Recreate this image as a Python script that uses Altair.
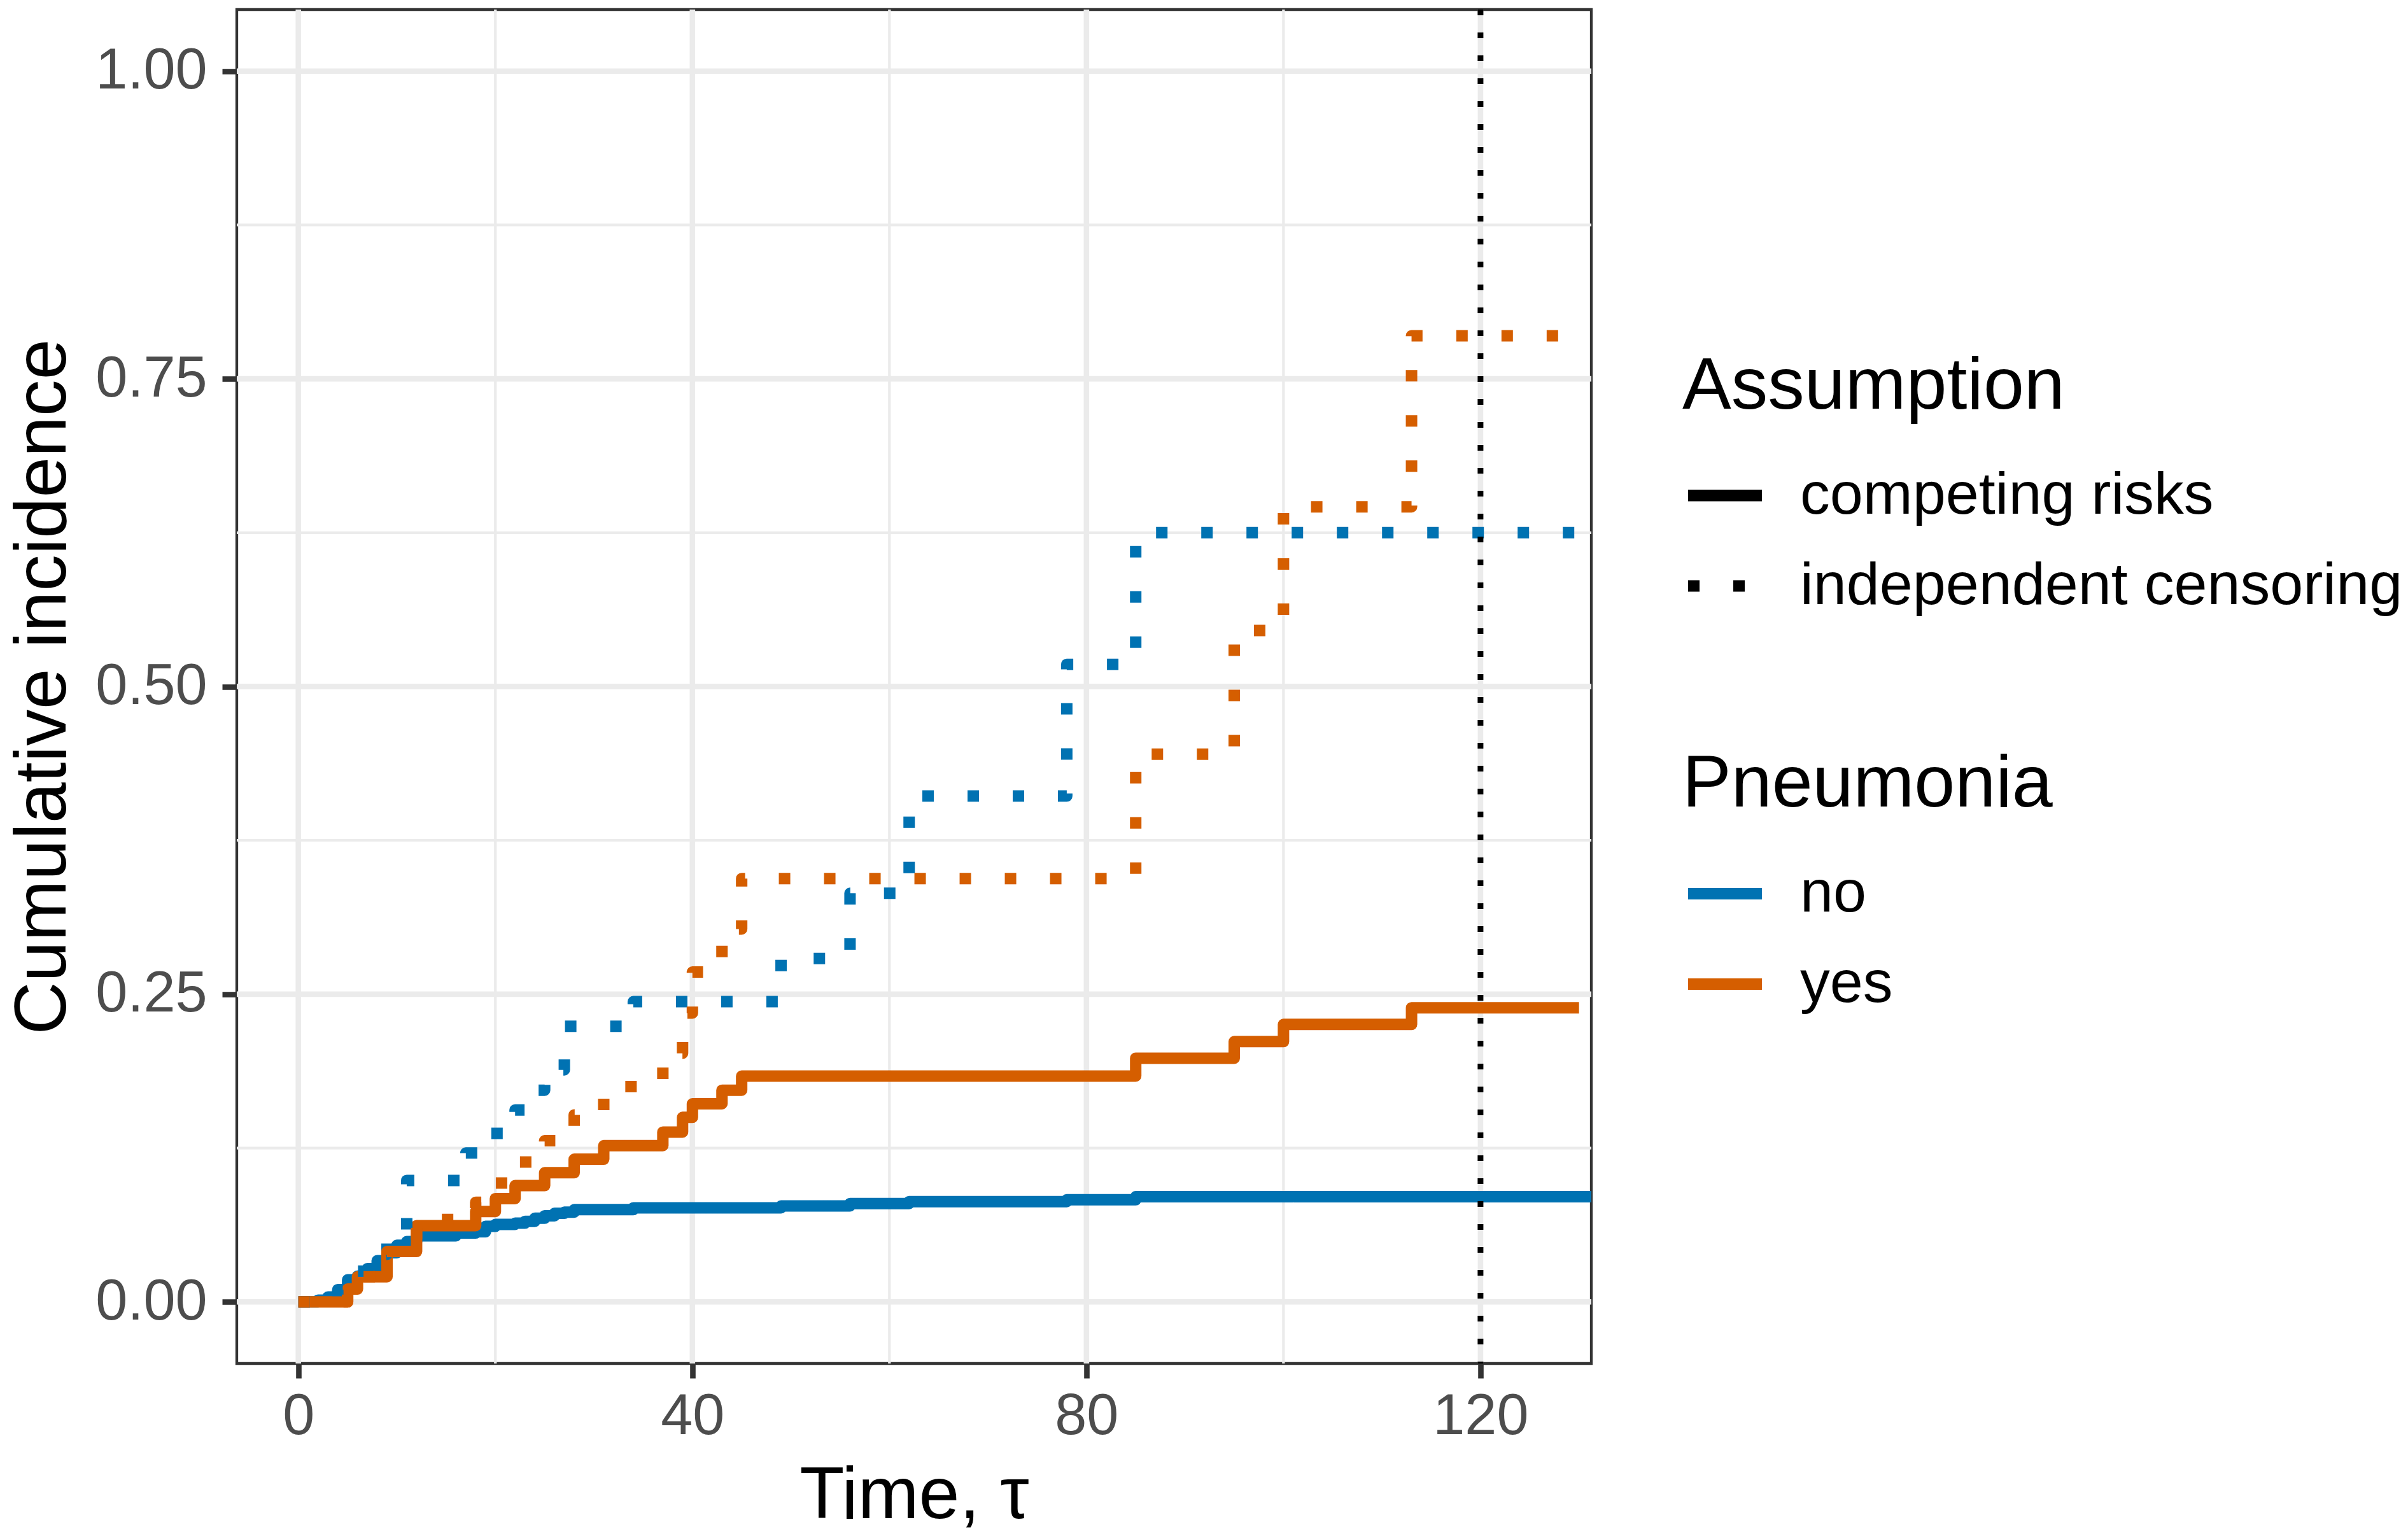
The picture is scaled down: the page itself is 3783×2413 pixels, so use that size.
import altair as alt
import pandas as pd

# Cumulative incidence step estimates (time in days)
times_no_cr = [0, 2, 3, 4, 5, 6, 7, 8, 9, 10, 11, 12, 16, 18, 19, 20, 22, 23, 24, 25,
               26, 27, 28, 34, 49, 56, 62, 78, 85, 135]
cif_no_cr = [0, 0.0015, 0.004, 0.009, 0.018, 0.021, 0.027, 0.0335, 0.040, 0.046,
             0.049, 0.0537, 0.056, 0.057, 0.0614, 0.063, 0.064, 0.0655, 0.068, 0.070,
             0.072, 0.073, 0.075, 0.0765, 0.078, 0.080, 0.0815, 0.083, 0.0855, 0.0855]

times_no_ic = [0, 2, 3, 4, 5, 6, 7, 9, 11, 17, 19, 22, 24, 25, 27, 34, 49, 56, 62, 78,
               85, 135]
cif_no_ic = [0, 0.0016, 0.0045, 0.010, 0.020, 0.025, 0.0387, 0.057, 0.0987, 0.121,
             0.137, 0.156, 0.172, 0.1886, 0.224, 0.244, 0.279, 0.332, 0.411, 0.518,
             0.625, 0.625]

times_yes_cr = [0, 5, 6, 9, 12, 18, 20, 22, 25, 28, 31, 37, 39, 40, 43, 45, 85, 95,
                100, 113, 130]
cif_yes_cr = [0, 0.0105, 0.0205, 0.041, 0.062, 0.0735, 0.084, 0.0945, 0.105, 0.116,
              0.127, 0.138, 0.150, 0.161, 0.172, 0.1835, 0.198, 0.2115, 0.2255, 0.239,
              0.239]

times_yes_ic = [0, 5, 6, 9, 12, 18, 20, 22, 25, 28, 31, 37, 39, 40, 43, 45, 85, 95,
                100, 113, 130]
cif_yes_ic = [0, 0.0105, 0.0205, 0.041, 0.067, 0.081, 0.0966, 0.1137, 0.131, 0.152,
              0.175, 0.202, 0.2347, 0.268, 0.303, 0.344, 0.445, 0.5455, 0.646, 0.785,
              0.785]

pneumonia_levels = ["no", "yes"]
assumption_levels = ["competing risks", "independent censoring"]

x_major = [0, 40, 80, 120]
x_minor = [20, 60, 100]
y_major = [0, 0.25, 0.5, 0.75, 1.0]
y_minor = [0.125, 0.375, 0.625, 0.875]
tau = [120]

FONT = "Liberation Sans"
BLUE, ORANGE = "#0072B2", "#D55E00"

# long table of all four curves, in drawing order
series = [
    ("no", "competing risks", times_no_cr, cif_no_cr),
    ("yes", "competing risks", times_yes_cr, cif_yes_cr),
    ("no", "independent censoring", times_no_ic, cif_no_ic),
    ("yes", "independent censoring", times_yes_ic, cif_yes_ic),
]
rows = []
for k, (pn, asm, ts, vs) in enumerate(series):
    for t, v in zip(ts, vs):
        rows.append({"t": t, "cif": v, "pneumonia": pn, "assumption": asm, "series": k})
curves = pd.DataFrame(rows)

xscale = alt.Scale(domain=[-6.25, 131.25], nice=False, zero=False)
yscale = alt.Scale(domain=[-0.05, 1.05], nice=False, zero=False)

x_axis = alt.Axis(values=x_major, format="d", title="Time, τ", labelFlush=False,
                  labelPadding=16, titleX=1064, titleY=242, titleBaseline="alphabetic",
                  titleAlign="center")
y_axis = alt.Axis(values=y_major, format=".2f", title="Cumulative incidence",
                  labelPadding=24, titleX=-270, titleY=1063.5, titleAngle=270,
                  titleBaseline="alphabetic", titleAlign="center")

color_scale = alt.Scale(domain=pneumonia_levels, range=[BLUE, ORANGE])
dash_scale = alt.Scale(domain=assumption_levels, range=[[1, 0], [18, 53]])

legend_common = dict(orient="none", symbolType="stroke", symbolStrokeWidth=18,
                     symbolSize=13456, labelOffset=51, rowPadding=28, titlePadding=46,
                     padding=0)
color_legend = alt.Legend(title="Pneumonia", legendX=2271, legendY=1161, **legend_common)
dash_legend = alt.Legend(title="Assumption", legendX=2271, legendY=535.6,
                         symbolStrokeColor="black", **legend_common)

# panel grid
grid_x_major = alt.Chart(pd.DataFrame({"t": x_major})).mark_rule(
    color="#EBEBEB", strokeWidth=8.6).encode(x=alt.X("t:Q", scale=xscale, axis=x_axis))
grid_x_minor = alt.Chart(pd.DataFrame({"t": x_minor})).mark_rule(
    color="#EBEBEB", strokeWidth=4.3).encode(x=alt.X("t:Q", scale=xscale, axis=x_axis))
grid_y_major = alt.Chart(pd.DataFrame({"cif": y_major})).mark_rule(
    color="#EBEBEB", strokeWidth=8.6).encode(y=alt.Y("cif:Q", scale=yscale, axis=y_axis))
grid_y_minor = alt.Chart(pd.DataFrame({"cif": y_minor})).mark_rule(
    color="#EBEBEB", strokeWidth=4.3).encode(y=alt.Y("cif:Q", scale=yscale, axis=y_axis))

base = alt.Chart(curves).mark_line(
    interpolate="step-after", strokeWidth=18, strokeJoin="round", strokeCap="butt",
    clip=True
).encode(
    x=alt.X("t:Q", scale=xscale, axis=x_axis),
    y=alt.Y("cif:Q", scale=yscale, axis=y_axis),
    color=alt.Color("pneumonia:N", scale=color_scale, legend=color_legend),
    strokeDash=alt.StrokeDash("assumption:N", scale=dash_scale, legend=dash_legend),
)
curve_layers = [base.transform_filter(alt.datum.series == k) for k in range(len(series))]

# horizon line at tau = 120
tau_line = alt.Chart(pd.DataFrame({"t": tau})).mark_rule(
    color="black", strokeWidth=9, strokeDash=[9, 27], strokeCap="butt"
).encode(x=alt.X("t:Q", scale=xscale, axis=x_axis))

chart = alt.layer(
    grid_x_minor, grid_y_minor, grid_x_major, grid_y_major, *curve_layers, tau_line
).properties(
    width=2128, height=2127,
    padding={"left": 372, "top": 15, "right": 1283, "bottom": 271},
    autosize=alt.AutoSizeParams(type="none"),
    background="white",
).configure_view(
    stroke="#333333", strokeWidth=4.3
).configure_axis(
    grid=False, domain=False, ticks=True, tickColor="#333333", tickWidth=8.6,
    tickSize=23, labelFont=FONT, labelFontSize=90, labelColor="#4D4D4D",
    titleFont=FONT, titleFontSize=115, titleFontWeight="normal", titleColor="black",
).configure_legend(
    labelFont=FONT, labelFontSize=93.5, labelColor="black", labelLimit=0,
    titleFont=FONT, titleFontSize=115, titleFontWeight="normal", titleColor="black",
    titleLimit=0,
)

chart.save("out.html", embed_options={"renderer": "svg", "actions": False})
